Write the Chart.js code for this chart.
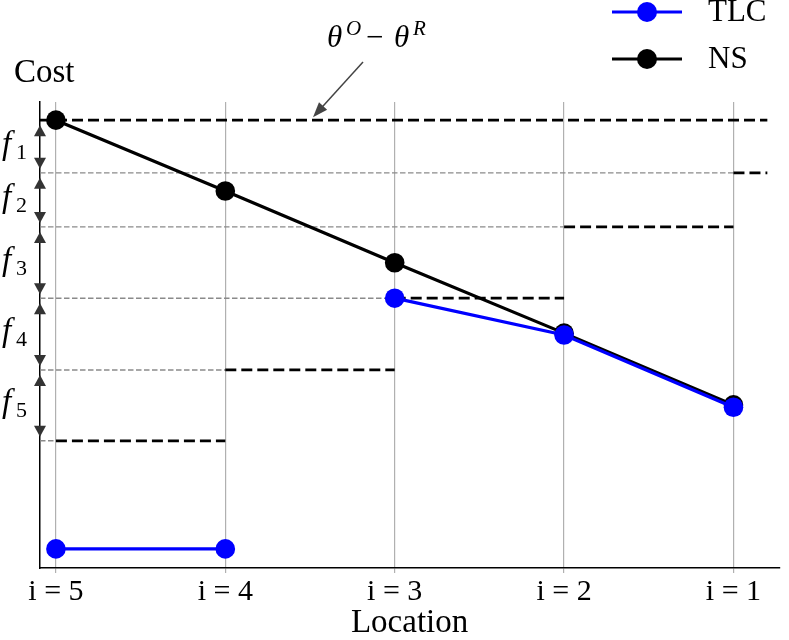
<!DOCTYPE html>
<html>
<head>
<meta charset="utf-8">
<script src="https://cdn.jsdelivr.net/npm/chart.js@4"></script>
<style>
  html, body { margin: 0; padding: 0; background: #fff; }
  #wrap { width: 789px; height: 640px; }
</style>
</head>
<body>
<div id="wrap"><canvas id="c" width="789" height="640"></canvas></div>
<script>
// ---- data ----
const categories = ['i = 5', 'i = 4', 'i = 3', 'i = 2', 'i = 1'];
const nsCost  = [9.61, 8.09, 6.55, 5.04, 3.50];
const tlcCost = [0.41, 0.41, 5.79, 5.00, 3.45];
// cost levels theta^O - theta^R and the successive f-steps below it
const levels  = [9.61, 8.48, 7.32, 5.79, 4.25, 2.73];
const fNames  = ['1', '2', '3', '4', '5'];
const xMin = -0.094, xMax = 4.27, xEnd = 4.2;

const serif = '"Liberation Serif", "DejaVu Serif", serif';

const pts = (arr, from, to) => arr.slice(from, to).map((v, i) => ({ x: from + i, y: v }));

const datasets = [];
// TLC (drawn on top)
datasets.push({ label: 'TLC', data: pts(tlcCost, 0, 2), borderColor: '#0000ff', backgroundColor: '#0000ff',
  borderWidth: 3.2, pointRadius: 9.8, pointBorderWidth: 0, order: 0 });
datasets.push({ label: 'TLC', data: pts(tlcCost, 2, 5), borderColor: '#0000ff', backgroundColor: '#0000ff',
  borderWidth: 3.2, pointRadius: 9.8, pointBorderWidth: 0, order: 0 });
// NS
datasets.push({ label: 'NS', data: pts(nsCost, 0, 5), borderColor: '#000', backgroundColor: '#000',
  borderWidth: 3.2, pointRadius: 9.8, pointBorderWidth: 0, order: 1 });
// dashed level lines
levels.forEach((lv, k) => {
  const n = categories.length;
  if (k === 0) {
    datasets.push({ label: 'lvl', data: [{ x: xMin, y: lv }, { x: xEnd, y: lv }], borderColor: '#000',
      borderWidth: 2.7, borderDash: [11, 5], pointRadius: 0, order: 3 });
  } else {
    const start = n - k;
    const end = Math.min(start + 1, xEnd);
    datasets.push({ label: 'lvl', data: [{ x: xMin, y: lv }, { x: start, y: lv }], borderColor: '#8a8a8a',
      borderWidth: 1.4, borderDash: [5.5, 2.5], pointRadius: 0, order: 4 });
    datasets.push({ label: 'lvl', data: [{ x: start, y: lv }, { x: end, y: lv }], borderColor: '#000',
      borderWidth: 2.7, borderDash: [11, 5], pointRadius: 0, order: 3 });
  }
});

function tri(ctx, x, tipY, dir, len, w) {
  ctx.beginPath();
  ctx.moveTo(x, tipY);
  ctx.lineTo(x - w / 2, tipY + dir * len);
  ctx.lineTo(x + w / 2, tipY + dir * len);
  ctx.closePath();
  ctx.fill();
}

const annot = {
  id: 'annot',
  afterDraw(chart) {
    const ctx = chart.ctx;
    const xs = chart.scales.x, ys = chart.scales.y;
    ctx.save();
    // double arrows along the left spine
    const ax = xs.getPixelForValue(xMin);
    for (let k = 0; k < levels.length - 1; k++) {
      const t = ys.getPixelForValue(levels[k]);
      const b = ys.getPixelForValue(levels[k + 1]);
      ctx.fillStyle = '#333';
      tri(ctx, ax, t + 5, 1, 11, 12);
      tri(ctx, ax, b - 4, -1, 11, 12);
      // f labels
      const mid = (t + b) / 2;
      ctx.fillStyle = '#000';
      ctx.textBaseline = 'alphabetic';
      ctx.textAlign = 'left';
      ctx.font = 'italic 33px ' + serif;
      ctx.fillText('f', 2, mid + 7);
      ctx.font = '22px ' + serif;
      ctx.fillText(fNames[k], 16, mid + 12);
    }
    // Cost label
    ctx.fillStyle = '#000';
    ctx.font = '33px ' + serif;
    ctx.textAlign = 'left';
    ctx.textBaseline = 'alphabetic';
    ctx.fillText('Cost', 14, 82);
    // theta annotation
    ctx.font = 'italic 31px ' + serif;
    ctx.fillText('θ', 327, 47);
    ctx.font = 'italic 21px ' + serif;
    ctx.fillText('O', 346, 35);
    ctx.font = '31px ' + serif;
    ctx.fillText('−', 366, 47);
    ctx.font = 'italic 31px ' + serif;
    ctx.fillText('θ', 394, 47);
    ctx.font = 'italic 21px ' + serif;
    ctx.fillText('R', 413, 35);
    // arrow to the top level line
    const tipX = 313, tipY = ys.getPixelForValue(levels[0]) - 3;
    const sx = 363, sy = 62;
    const ang = Math.atan2(tipY - sy, tipX - sx);
    ctx.strokeStyle = '#444';
    ctx.lineWidth = 1.5;
    ctx.beginPath();
    ctx.moveTo(sx, sy);
    ctx.lineTo(tipX - 12 * Math.cos(ang), tipY - 12 * Math.sin(ang));
    ctx.stroke();
    ctx.fillStyle = '#444';
    ctx.beginPath();
    ctx.moveTo(tipX, tipY);
    ctx.lineTo(tipX - 15 * Math.cos(ang) + 5.5 * Math.sin(ang), tipY - 15 * Math.sin(ang) - 5.5 * Math.cos(ang));
    ctx.lineTo(tipX - 15 * Math.cos(ang) - 5.5 * Math.sin(ang), tipY - 15 * Math.sin(ang) + 5.5 * Math.cos(ang));
    ctx.closePath();
    ctx.fill();
    // legend
    const items = [{ t: 'TLC', c: '#0000ff', y: 12 }, { t: 'NS', c: '#000', y: 59 }];
    items.forEach(it => {
      ctx.strokeStyle = it.c;
      ctx.lineWidth = 3.2;
      ctx.beginPath();
      ctx.moveTo(612, it.y);
      ctx.lineTo(682, it.y);
      ctx.stroke();
      ctx.fillStyle = it.c;
      ctx.beginPath();
      ctx.arc(647, it.y, 10, 0, Math.PI * 2);
      ctx.fill();
      ctx.fillStyle = '#000';
      ctx.font = '31px ' + serif;
      ctx.textBaseline = 'middle';
      ctx.fillText(it.t, 708, it.y + 1);
    });
    ctx.restore();
  }
};

new Chart(document.getElementById('c'), {
  type: 'line',
  data: { datasets },
  options: {
    responsive: false,
    animation: false,
    devicePixelRatio: 1,
    layout: { padding: { left: 40, right: 7, top: 102, bottom: 0 } },
    plugins: { legend: { display: false }, tooltip: { enabled: false } },
    elements: { line: { tension: 0 } },
    scales: {
      x: {
        type: 'linear', position: 'bottom', min: xMin, max: xMax,
        afterBuildTicks: (s) => { s.ticks = categories.map((c, i) => ({ value: i })); },
        afterFit: (s) => { s.height = 72; },
        ticks: {
          callback: (v) => categories[Math.round(v)],
          font: { family: serif, size: 30 }, color: '#000', padding: 1, maxRotation: 0, autoSkip: false
        },
        grid: { color: '#b0b0b0', lineWidth: 1.2, drawTicks: true, tickLength: 5, tickColor: '#b0b0b0' },
        border: { display: true, color: '#000', width: 1.5 },
        title: { display: true, text: 'Location', font: { family: serif, size: 33, lineHeight: 1 }, color: '#000', padding: { top: 0, bottom: 0 } }
      },
      y: {
        type: 'linear', position: 'left', min: 0, max: 10,
        afterFit: (s) => { s.width = 0; },
        ticks: { display: false },
        grid: { display: false, drawTicks: false },
        border: { display: true, color: '#000', width: 1.5 }
      }
    }
  },
  plugins: [annot]
});
</script>
</body>
</html>
